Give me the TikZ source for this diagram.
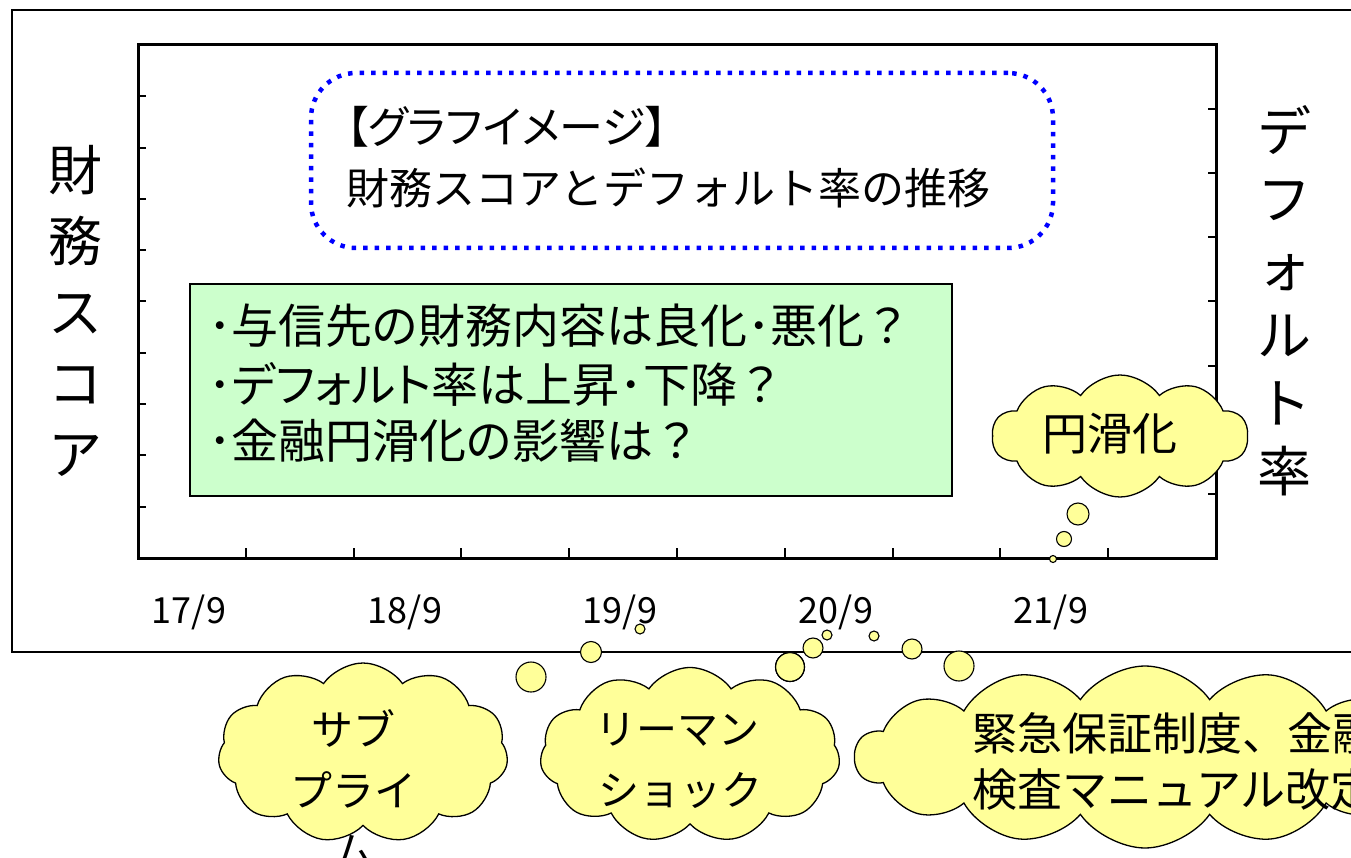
\documentclass[tikz,border=0pt]{standalone}
\usepackage{fontspec}
\newfontfamily\jp{Noto Sans CJK JP}
\newfontfamily\jpp[RawFeature=+palt]{Noto Sans CJK JP}
\usetikzlibrary{shapes.symbols}
\definecolor{cloudy}{HTML}{FFFF99}
\definecolor{greenfill}{HTML}{CCFFCC}
\definecolor{dotblue}{HTML}{0000FF}
\begin{document}
\begin{tikzpicture}[x=1pt,y=-1pt,
  cloudshape/.style={cloud, cloud puffs=#1, cloud puff arc=110, cloud ignores aspect, draw=black, line width=1.3pt, fill=cloudy, inner sep=0pt},
  bubble/.style={circle, draw=black, line width=1.1pt, fill=cloudy, inner sep=0pt, minimum size=#1},
  axtick/.style={line width=2pt},
  txt/.style={inner sep=0pt, font=\jp\fontsize{#1}{#1}\selectfont},
  ptxt/.style={inner sep=0pt, font=\jpp\fontsize{#1}{#1}\selectfont},
  lbl/.style={inner sep=0pt, font=\jp\fontsize{36}{36}\selectfont}
]
\useasboundingbox (0,0) rectangle (1351,858);
\clip (0,0) rectangle (1351,858);
\fill[white] (0,0) rectangle (1351,858);

% outer frame
\draw[line width=2.5pt] (1360,10) -- (12,10) -- (12,652) -- (1360,652);

% plot area
\draw[line width=3pt] (138,45) rectangle (1216,558);
\foreach \k in {1,...,9} {
  \draw[axtick] (138,{45+51.3*\k}) -- (146,{45+51.3*\k});
  \draw[axtick] ({138+107.8*\k},558) -- ({138+107.8*\k},548);
}
\foreach \k in {1,...,7} {
  \draw[axtick] (1216,{45+64.125*\k}) -- (1208,{45+64.125*\k});
}

% axis labels
\node[inner sep=0pt, align=center, font=\jp\fontsize{54}{71}\selectfont] (ylab) at (75,311) {財\\務\\ス\\コ\\ア};
\node[inner sep=0pt, align=center, font=\jp\fontsize{54}{68}\selectfont] (y2lab) at (1284,301) {デ\\フ\\ォ\\ル\\ト\\率};

\node[lbl] (x17) at (189,612) {17/9};
\node[lbl] (x18) at (405,612) {18/9};
\node[lbl] (x19) at (620,612) {19/9};
\node[lbl] (x20) at (836,612) {20/9};
\node[lbl] (x21) at (1051,612) {21/9};

% title box
\node[draw=dotblue, line width=4.5pt, dash pattern=on 4.5pt off 7pt, rounded corners=45pt, minimum width=742pt, minimum height=175pt, inner sep=0pt] (titlebox) at (682,160.5) {};
\node[ptxt=44, anchor=west] (title1) at (346,127) {【グラフイメージ】};
\node[txt=43, anchor=west] (title2) at (346,188) {財務スコアとデフォルト率の推移};

% question box
\node[draw=black, fill=greenfill, line width=1.5pt, minimum width=762pt, minimum height=212pt, inner sep=0pt] (qbox) at (571,390) {};
\node[ptxt=47, anchor=west] (q1) at (208,326) {･与信先の財務内容は良化･悪化{\jp ？}};
\node[ptxt=47, anchor=west] (q2) at (208,384) {･デフォルト率は上昇･下降{\jp ？}};
\node[ptxt=47, anchor=west] (q3) at (208,441) {･金融円滑化の影響は{\jp ？}};

% cloud: 円滑化
\node[cloudshape=10, minimum width=256pt, minimum height=122pt] (c1) at (1120,436) {};
\node[txt=45] (c1t) at (1110,434) {円滑化};
\node[bubble=22pt] (c1b1) at (1078,514) {};
\node[bubble=15pt] (c1b2) at (1064,539) {};
\node[bubble=7pt] (c1b3) at (1053,559) {};

% cloud: subprime
\node[cloudshape=11, minimum width=290pt, minimum height=180pt] (c2) at (363,753) {};
\node[txt=42] (c2a) at (353,728) {サブ};
\node[txt=42] (c2b) at (353,790) {プライ};
\node[txt=42] (c2c) at (353,852) {ム};
\node[bubble=30pt] (c2b1) at (531,677) {};
\node[bubble=21pt] (c2b2) at (591,652) {};
\node[bubble=10pt] (c2b3) at (640,629) {};

% cloud: Lehman
\node[bubble=29pt] (c3b1) at (790,667) {};
\node[cloudshape=11, minimum width=300pt, minimum height=175pt] (c3) at (690,755) {};
\node[circle, draw=black, line width=1.1pt, inner sep=0pt, minimum size=29pt] (c3b1o) at (790,667) {};
\node[txt=41] (c3a) at (677,730) {リーマン};
\node[txt=41] (c3b) at (680,790) {ショック};
\node[bubble=20pt] (c3b2) at (813,648) {};
\node[bubble=10pt] (c3b3) at (827,635) {};

% cloud: emergency guarantee
\node[cloudshape=14, minimum width=580pt, minimum height=182pt] (c4) at (1145,757) {};
\node[txt=45, anchor=west] (c4a) at (972,733) {緊急保証制度、金融};
\node[txt=45, anchor=west] (c4b) at (972,790) {検査マニュアル改定};
\node[bubble=10pt] (c4b1) at (874,636) {};
\node[bubble=20pt] (c4b2) at (912,649) {};
\node[bubble=30pt] (c4b3) at (959,666) {};
\end{tikzpicture}
\end{document}
